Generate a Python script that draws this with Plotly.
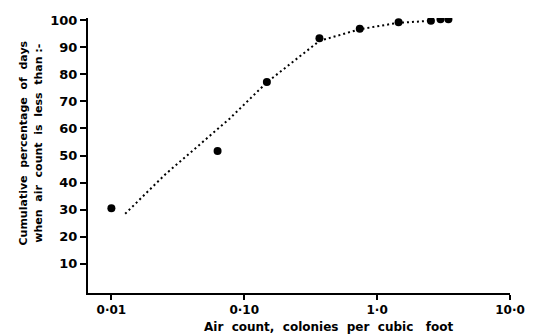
import plotly.graph_objects as go

# observed points
obs_x = [0.01, 0.063, 0.148, 0.368, 0.74, 1.45, 2.54, 3.0, 3.44]
obs_y = [30.5, 51.7, 77.1, 93.3, 96.8, 99.2, 99.7, 100.3, 100.3]

# fitted dotted curve
fit_x = [0.0127, 0.0254, 0.0776, 0.148, 0.368, 0.74, 1.45, 2.54]
fit_y = [28.5, 43.0, 63.6, 77.0, 92.3, 96.6, 99.0, 99.7]

xtick_vals = [0.01, 0.1, 1, 10]
xtick_text = ["0·01", "0·10", "1·0", "10·0"]
ytick_vals = [10, 20, 30, 40, 50, 60, 70, 80, 90, 100]
ytick_text = [str(v) for v in ytick_vals]

FONT = "DejaVu Sans"

fig = go.Figure()
fig.add_trace(go.Scatter(x=fit_x, y=fit_y, mode="lines",
                         line=dict(color="black", width=2, dash="2px,3px"),
                         hoverinfo="skip"))
fig.add_trace(go.Scatter(x=obs_x, y=obs_y, mode="markers",
                         marker=dict(color="black", size=8)))

fig.update_layout(
    width=537, height=335,
    margin=dict(l=88, r=16, t=18, b=42),
    paper_bgcolor="white", plot_bgcolor="white",
    showlegend=False,
    font=dict(family=FONT, color="black"),
    xaxis=dict(type="log", range=[-2.176, 1.0], tickvals=xtick_vals, ticktext=xtick_text,
               showline=True, linecolor="black", linewidth=2, ticks="outside",
               ticklen=5, tickwidth=2, tickcolor="black", showgrid=False, zeroline=False,
               tickfont=dict(family=FONT, size=12, weight="bold")),
    yaxis=dict(range=[-0.75, 100.75], tickvals=ytick_vals, ticktext=ytick_text,
               showline=True, linecolor="black", linewidth=2, ticks="outside",
               ticklen=6, tickwidth=2, tickcolor="black", showgrid=False, zeroline=False,
               tickfont=dict(family=FONT, size=13, weight="bold")),
)

fig.add_annotation(
    text="Air\u00a0\u00a0count,\u00a0\u00a0colonies\u00a0\u00a0per\u00a0\u00a0cubic\u00a0\u00a0\u00a0foot",
    xref="paper", yref="paper", x=(335 - 88) / 433, y=-(327 - 293) / 275,
    xanchor="center", yanchor="middle", showarrow=False,
    font=dict(family=FONT, size=12, weight="bold"))

fig.add_annotation(
    text="Cumulative\u00a0\u00a0percentage\u00a0\u00a0of\u00a0\u00a0days<br>when\u00a0\u00a0air\u00a0\u00a0count\u00a0\u00a0is\u00a0\u00a0less\u00a0\u00a0than\u00a0:-",
    xref="paper", yref="paper", x=(29 - 88) / 433, y=(293 - 143) / 275,
    xanchor="center", yanchor="middle", showarrow=False, textangle=-90,
    font=dict(family=FONT, size=11, weight="bold"))

fig.write_html("out.html")
